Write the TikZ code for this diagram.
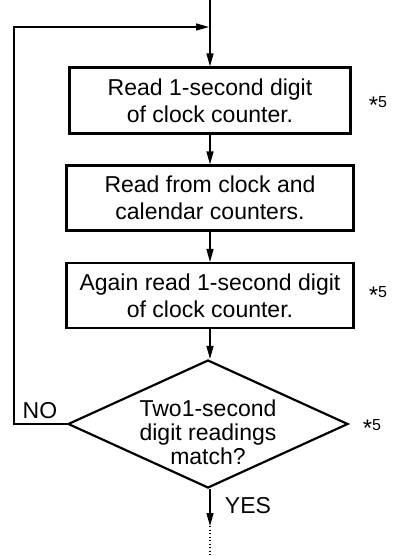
\documentclass[tikz,border=0pt]{standalone}
\usepackage{fontspec}
\setmainfont{Liberation Sans}
\usetikzlibrary{arrows.meta,shapes.geometric}
\tikzset{
  procbox/.style={draw, line width=2.2pt, minimum width=287pt, minimum height=65pt,
    align=center, inner sep=0pt, font=\fontsize{23}{27}\selectfont},
  decision/.style={draw, diamond, line width=2.2pt, minimum width=280pt, minimum height=128pt,
    inner sep=0pt},
  flow/.style={line width=1.3pt, -{Triangle[length=13pt,width=7pt]}},
  txt/.style={font=\fontsize{23}{27}\selectfont, inner sep=0pt},
}
\newcommand{\note}{{\fontsize{24}{24}\selectfont\raisebox{-6.5pt}{*}}{\fontsize{16}{16}\selectfont 5}}

\begin{document}
\begin{tikzpicture}[x=1pt,y=-1pt]
  %%%%% START %%%%%
  \useasboundingbox (0,0) rectangle (393,557);

  \coordinate (start) at (210,0);
  \coordinate (join) at (210,27);
  \coordinate (loopx) at (14,0);
  \coordinate (yesend) at (210,526);
  \coordinate (finish) at (210,557);

  \node[procbox, minimum width=281pt, minimum height=66pt] (readsec) at (210,100.5)
    {Read 1-second digit\\of clock counter.};
  \node[procbox] (readall) at (210,198) {Read from clock and\\calendar counters.};
  \node[procbox] (readagain) at (210,295.5) {Again read 1-second digit\\of clock counter.};
  \node[decision] (match) at (208,424) {};
  \node[align=center, inner sep=0pt, font=\fontsize{23}{24}\selectfont] (matchtext) at (208,432)
    {Two1-second\\digit readings\\match?};

  \draw[flow] (start) -- (readsec);
  \draw[flow] (readsec) -- (readall);
  \draw[flow] (readall) -- (readagain);
  \draw[flow] (readagain.south) -- (readagain.south |- match.north);
  \draw[flow] (match.west) -- (match.west -| loopx) |- ([xshift=-1pt]join);
  \draw[flow] (match.south -| yesend) -- (yesend);
  \draw[line width=1.3pt, dash pattern=on 1.3pt off 2.2pt] (yesend) -- (finish);

  \node[txt] (no) at (40,411) {NO};
  \node[txt] (yes) at (248,506) {YES};
  \node[inner sep=0pt] (note1) at (378,105) {\note};
  \node[inner sep=0pt] (note2) at (378,295) {\note};
  \node[inner sep=0pt] (note3) at (372,428) {\note};
  %%%%% END %%%%%
\end{tikzpicture}
\end{document}
